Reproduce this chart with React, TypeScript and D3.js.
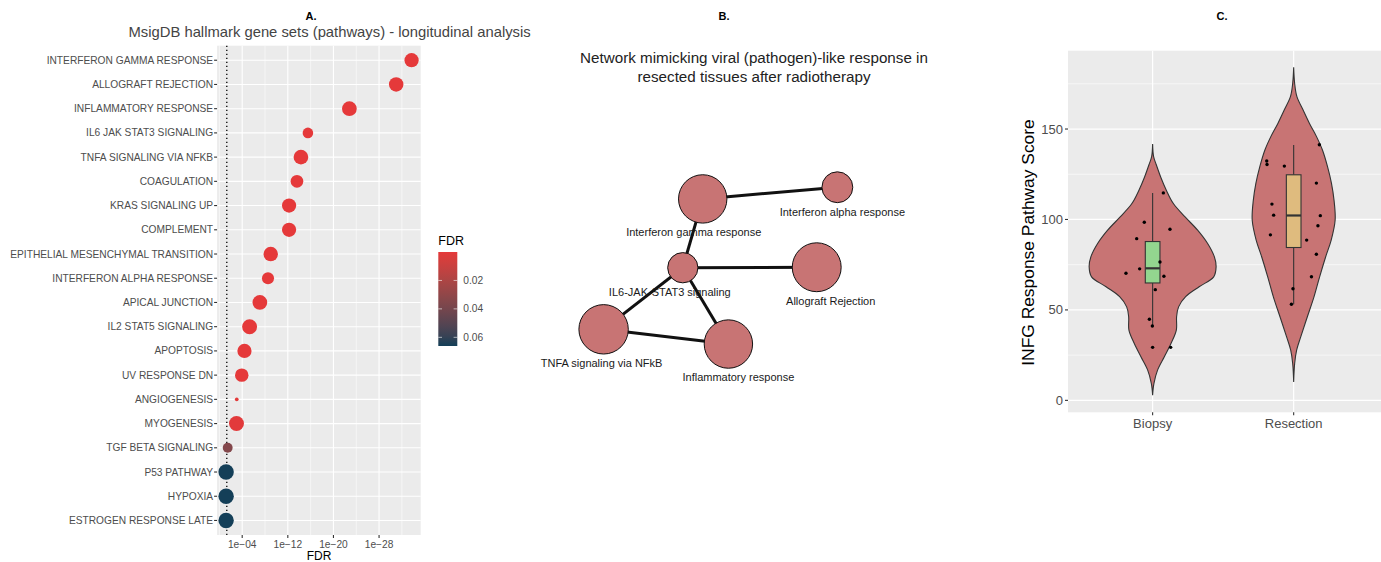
import * as d3 from "d3";

// ---------- Panel A: hallmark pathways ----------
const pathways = [
  "INTERFERON GAMMA RESPONSE",
  "ALLOGRAFT REJECTION",
  "INFLAMMATORY RESPONSE",
  "IL6 JAK STAT3 SIGNALING",
  "TNFA SIGNALING VIA NFKB",
  "COAGULATION",
  "KRAS SIGNALING UP",
  "COMPLEMENT",
  "EPITHELIAL MESENCHYMAL TRANSITION",
  "INTERFERON ALPHA RESPONSE",
  "APICAL JUNCTION",
  "IL2 STAT5 SIGNALING",
  "APOPTOSIS",
  "UV RESPONSE DN",
  "ANGIOGENESIS",
  "MYOGENESIS",
  "TGF BETA SIGNALING",
  "P53 PATHWAY",
  "HYPOXIA",
  "ESTROGEN RESPONSE LATE",
];
const pathwayFdr = [
  2e-34, 1e-31, 1.6e-23, 3e-16, 5e-15, 2.5e-14, 6e-13, 6e-13, 1e-9, 3e-9,
  8e-8, 5e-6, 4e-5, 1.2e-4, 9e-4, 1e-3, 0.035, 0.066, 0.066, 0.066,
];
const pathwayGenes = [29, 30, 31, 16, 31, 23, 29, 29, 30, 21, 31, 32, 29, 26, 2, 32, 14, 34, 34, 34];
const fdrTicks = [1e-4, 1e-12, 1e-20, 1e-28];
const fdrMinorTicks = [1, 1e-8, 1e-16, 1e-24, 1e-32];
const fdrLegendTicks = [0.02, 0.04, 0.06];
const fdrCutoff = 0.05;

// ---------- Panel B: network ----------
const netNodes = [
  "Interferon gamma response",
  "Interferon alpha response",
  "IL6-JAK-STAT3 signaling",
  "Allograft Rejection",
  "TNFA signaling via NFkB",
  "Inflammatory response",
];
const netLayoutX = [0.428, 0.989, 0.345, 0.903, 0.015, 0.535];
const netLayoutY = [0.087, 0.014, 0.517, 0.514, 0.902, 0.994];
const netSize = [192, 78, 75, 196, 200, 192];
const netLabelNudge = [-9, 5, -13, 14, -2, 10];
const netEdges: [number, number][] = [
  [0, 1],
  [0, 2],
  [2, 3],
  [2, 4],
  [2, 5],
  [4, 5],
];

// ---------- Panel C: violin ----------
const groups = ["Biopsy", "Resection"];
const scoreTicks = [0, 50, 100, 150];
const scoreMinor = [25, 75, 125, 175];
const biopsyProfileV = [141.7, 134.7, 130.9, 123.5, 116.2, 108.8, 101.4, 94.1, 86.7, 79.3, 73.8, 68.3, 62.8, 57.3, 51.7, 46.2, 38.8, 31.4, 24.1, 16.7, 9.3, 2.9];
const biopsyProfileW = [0, 0.007, 0.023, 0.057, 0.097, 0.147, 0.23, 0.319, 0.39, 0.438, 0.45, 0.433, 0.33, 0.234, 0.184, 0.17, 0.168, 0.13, 0.083, 0.035, 0.009, 0];
const resectionProfileV = [184.1, 175.2, 167.9, 160.5, 153.1, 145.8, 138.4, 129.2, 120, 110.7, 99.7, 88.6, 79.4, 68.3, 57.2, 46.2, 35.1, 27.8, 20.4, 10.2];
const resectionProfileW = [0, 0.007, 0.023, 0.067, 0.112, 0.162, 0.204, 0.24, 0.268, 0.286, 0.294, 0.266, 0.227, 0.184, 0.144, 0.097, 0.05, 0.021, 0.007, 0];
// box stats: q1, median, q3, lower whisker, upper whisker
const biopsyBox = [64.9, 73.0, 87.8, 40.6, 114.7];
const resectionBox = [84.5, 102.2, 124.7, 53.1, 141.1];
const biopsyPoints = [114.7, 98.5, 94.6, 89.4, 72.7, 70.3, 76.5, 68.6, 61.2, 44.8, 41.1, 29.3, 29.3];
const biopsyJitter = [0.076, -0.059, 0.123, -0.113, -0.092, -0.189, 0.052, 0.08, 0.019, -0.023, -0.002, 0, 0.128];
const resectionPoints = [141.3, 132.3, 130.4, 129.5, 120.1, 108.5, 102.4, 102.1, 96.5, 91.5, 88.6, 80.8, 68.3, 61.7, 53.1];
const resectionJitter = [0.182, -0.191, -0.189, -0.066, 0.161, -0.154, -0.142, 0.189, 0.172, -0.165, 0.092, 0.161, 0.126, -0.005, -0.016];

const FONT = "'Liberation Sans', Arial, Helvetica, sans-serif";
const PANEL_BG = "#ebebeb";

function PanelA() {
  const left = 217.1, right = 420.7, top = 45.7, bottom = 535;
  const x = d3.scaleLog().domain([10 ** 0.4, 10 ** -35.3]).range([left, right]);
  const y = d3.scalePoint<string>().domain(pathways).range([top, bottom]).padding(0.6);
  const r = d3.scaleSqrt().domain([0, 34]).range([0, 7.7]);
  const color = d3
    .scaleLinear<string>()
    .domain([0, 0.0661])
    .range(["#e5393a", "#133f58"])
    .interpolate(d3.interpolateLab);
  const ly = d3.scaleLinear().domain([0, 0.0661]).range([252, 346]);
  const gradStops = d3.range(0, 1.0001, 0.1);
  const fmt = (v: number) => "1e\u2212" + String(Math.round(-Math.log10(v))).padStart(2, "0");

  return (
    <g fontFamily={FONT}>
      <text x={311} y={19.5} fontSize={11} fontWeight="bold" textAnchor="middle" fill="#000">A.</text>
      <text x={329.6} y={31.7} dy="0.35em" fontSize={14.8} textAnchor="middle" fill="#444">
        MsigDB hallmark gene sets (pathways) - longitudinal analysis
      </text>
      <rect x={left} y={top} width={right - left} height={bottom - top} fill={PANEL_BG} />
      {fdrMinorTicks.map((t) => (
        <line key={"mn" + t} x1={x(t)} x2={x(t)} y1={top} y2={bottom} stroke="#fff" strokeWidth={0.55} />
      ))}
      {fdrTicks.map((t) => (
        <line key={"mj" + t} x1={x(t)} x2={x(t)} y1={top} y2={bottom} stroke="#fff" strokeWidth={1.1} />
      ))}
      {pathways.map((p) => (
        <line key={"h" + p} x1={left} x2={right} y1={y(p)} y2={y(p)} stroke="#fff" strokeWidth={1.1} />
      ))}
      <line x1={x(fdrCutoff)} x2={x(fdrCutoff)} y1={top} y2={bottom} stroke="#000" strokeWidth={1.3} strokeDasharray="1.3,2.7" />
      {pathways.map((p, i) => (
        <circle key={"c" + p} cx={x(pathwayFdr[i])} cy={y(p)} r={r(pathwayGenes[i])} fill={color(pathwayFdr[i])} />
      ))}
      {pathways.map((p) => (
        <g key={"l" + p}>
          <text x={left - 4} y={y(p)} dy="0.35em" fontSize={10.2} textAnchor="end" fill="#4d4d4d">{p}</text>
          <line x1={left - 3} x2={left} y1={y(p)} y2={y(p)} stroke="#333" strokeWidth={1.1} />
        </g>
      ))}
      {fdrTicks.map((t) => (
        <g key={"xt" + t}>
          <line x1={x(t)} x2={x(t)} y1={bottom} y2={bottom + 3} stroke="#333" strokeWidth={1.1} />
          <text x={x(t)} y={544} dy="0.35em" fontSize={10.2} textAnchor="middle" fill="#4d4d4d">{fmt(t)}</text>
        </g>
      ))}
      <text x={319} y={555.5} dy="0.35em" fontSize={12} textAnchor="middle" fill="#000">FDR</text>

      {/* colour legend */}
      <defs>
        <linearGradient id="fdrGrad" x1="0" x2="0" y1="0" y2="1">
          {gradStops.map((s) => (
            <stop key={s} offset={s} stopColor={color(s * 0.0661)} />
          ))}
        </linearGradient>
      </defs>
      <text x={438.3} y={241} dy="0.35em" fontSize={12.5} fill="#000">FDR</text>
      <rect x={438.3} y={252} width={19} height={94} fill="url(#fdrGrad)" />
      {fdrLegendTicks.map((t) => (
        <g key={"lt" + t}>
          <line x1={438.3} x2={442} y1={ly(t)} y2={ly(t)} stroke="#fff" strokeOpacity={0.6} />
          <line x1={453.6} x2={457.3} y1={ly(t)} y2={ly(t)} stroke="#fff" strokeOpacity={0.6} />
          <text x={463.3} y={ly(t)} dy="0.35em" fontSize={10.2} fill="#4d4d4d">{t.toFixed(2)}</text>
        </g>
      ))}
    </g>
  );
}

function PanelB() {
  const x = d3.scaleLinear().domain([0, 1]).range([600, 840]);
  const y = d3.scaleLinear().domain([0, 1]).range([185, 345]);
  const r = d3.scaleSqrt().domain([0, 200]).range([0, 24.7]);
  return (
    <g fontFamily={FONT}>
      <text x={724} y={19.5} fontSize={11} fontWeight="bold" textAnchor="middle" fill="#000">B.</text>
      <text x={754} y={58} dy="0.35em" fontSize={15.2} textAnchor="middle" fill="#222">
        Network mimicking viral (pathogen)-like response in
      </text>
      <text x={754} y={76.5} dy="0.35em" fontSize={15.2} textAnchor="middle" fill="#222">
        resected tissues after radiotherapy
      </text>
      {netEdges.map(([a, b]) => (
        <line
          key={a + "-" + b}
          x1={x(netLayoutX[a])}
          y1={y(netLayoutY[a])}
          x2={x(netLayoutX[b])}
          y2={y(netLayoutY[b])}
          stroke="#111"
          strokeWidth={3}
        />
      ))}
      {netNodes.map((n, i) => (
        <circle key={n} cx={x(netLayoutX[i])} cy={y(netLayoutY[i])} r={r(netSize[i])} fill="#c87474" stroke="#111" strokeWidth={1} />
      ))}
      {netNodes.map((n, i) => (
        <text
          key={"t" + n}
          x={x(netLayoutX[i]) + netLabelNudge[i]}
          y={y(netLayoutY[i]) + r(netSize[i]) + 9}
          dy="0.35em"
          fontSize={11}
          textAnchor="middle"
          fill="#1a1a1a"
        >
          {n}
        </text>
      ))}
    </g>
  );
}

function PanelC() {
  const left = 1068, right = 1381, top = 50.7, bottom = 412.3;
  const x = d3.scalePoint<string>().domain(groups).range([1068, 1378.3]).padding(0.6);
  const step = x.step();
  const y = d3.scaleLinear().domain([-6.6, 193.3]).range([bottom, top]);
  const profiles = [
    { v: biopsyProfileV, w: biopsyProfileW, box: biopsyBox, pts: biopsyPoints, jit: biopsyJitter, fill: "#93d68f" },
    { v: resectionProfileV, w: resectionProfileW, box: resectionBox, pts: resectionPoints, jit: resectionJitter, fill: "#dfbb7e" },
  ];
  const boxW = 0.104 * step;

  return (
    <g fontFamily={FONT}>
      <text x={1222} y={19.5} fontSize={11} fontWeight="bold" textAnchor="middle" fill="#000">C.</text>
      <rect x={left} y={top} width={right - left} height={bottom - top} fill={PANEL_BG} />
      {scoreMinor.map((t) => (
        <line key={"mn" + t} x1={left} x2={right} y1={y(t)} y2={y(t)} stroke="#fff" strokeWidth={0.6} />
      ))}
      {scoreTicks.map((t) => (
        <line key={"mj" + t} x1={left} x2={right} y1={y(t)} y2={y(t)} stroke="#fff" strokeWidth={1.2} />
      ))}
      {groups.map((g) => (
        <line key={"v" + g} x1={x(g)} x2={x(g)} y1={top} y2={bottom} stroke="#fff" strokeWidth={1.2} />
      ))}
      {groups.map((g, gi) => {
        const p = profiles[gi];
        const cx = x(g) as number;
        const idx = d3.range(p.v.length);
        const area = d3
          .area<number>()
          .y((i) => y(p.v[i]))
          .x0((i) => cx - p.w[i] * step)
          .x1((i) => cx + p.w[i] * step)
          .curve(d3.curveCatmullRom);
        const [q1, med, q3, lo, hi] = p.box;
        return (
          <g key={g}>
            <path d={area(idx) || ""} fill="#c87474" stroke="#333" strokeWidth={1.1} />
            <line x1={cx} x2={cx} y1={y(hi)} y2={y(q3)} stroke="#333" strokeWidth={1.1} />
            <line x1={cx} x2={cx} y1={y(q1)} y2={y(lo)} stroke="#333" strokeWidth={1.1} />
            <rect x={cx - boxW / 2} y={y(q3)} width={boxW} height={y(q1) - y(q3)} fill={p.fill} stroke="#333" strokeWidth={1.1} />
            <line x1={cx - boxW / 2} x2={cx + boxW / 2} y1={y(med)} y2={y(med)} stroke="#333" strokeWidth={2.2} />
            {p.pts.map((v, i) => (
              <circle key={i} cx={cx + p.jit[i] * step} cy={y(v)} r={1.7} fill="#000" />
            ))}
          </g>
        );
      })}
      {scoreTicks.map((t) => (
        <g key={"yt" + t}>
          <line x1={left - 3} x2={left} y1={y(t)} y2={y(t)} stroke="#333" strokeWidth={1.1} />
          <text x={left - 5} y={y(t)} dy="0.35em" fontSize={13} textAnchor="end" fill="#4d4d4d">{t}</text>
        </g>
      ))}
      {groups.map((g) => (
        <g key={"xt" + g}>
          <line x1={x(g)} x2={x(g)} y1={bottom} y2={bottom + 3} stroke="#333" strokeWidth={1.1} />
          <text x={x(g)} y={423} dy="0.35em" fontSize={13} textAnchor="middle" fill="#4d4d4d">{g}</text>
        </g>
      ))}
      <text
        transform="translate(1028,242.5) rotate(-90)"
        dy="0.35em"
        fontSize={17.4}
        textAnchor="middle"
        fill="#000"
      >
        INFG Response Pathway Score
      </text>
    </g>
  );
}

export default function App() {
  return (
    <svg
      width={1381}
      height={562}
      style={{ position: "absolute", left: 0, top: 0, background: "#fff" }}
    >
      <rect width={1381} height={562} fill="#fff" />
      <PanelA />
      <PanelB />
      <PanelC />
    </svg>
  );
}
